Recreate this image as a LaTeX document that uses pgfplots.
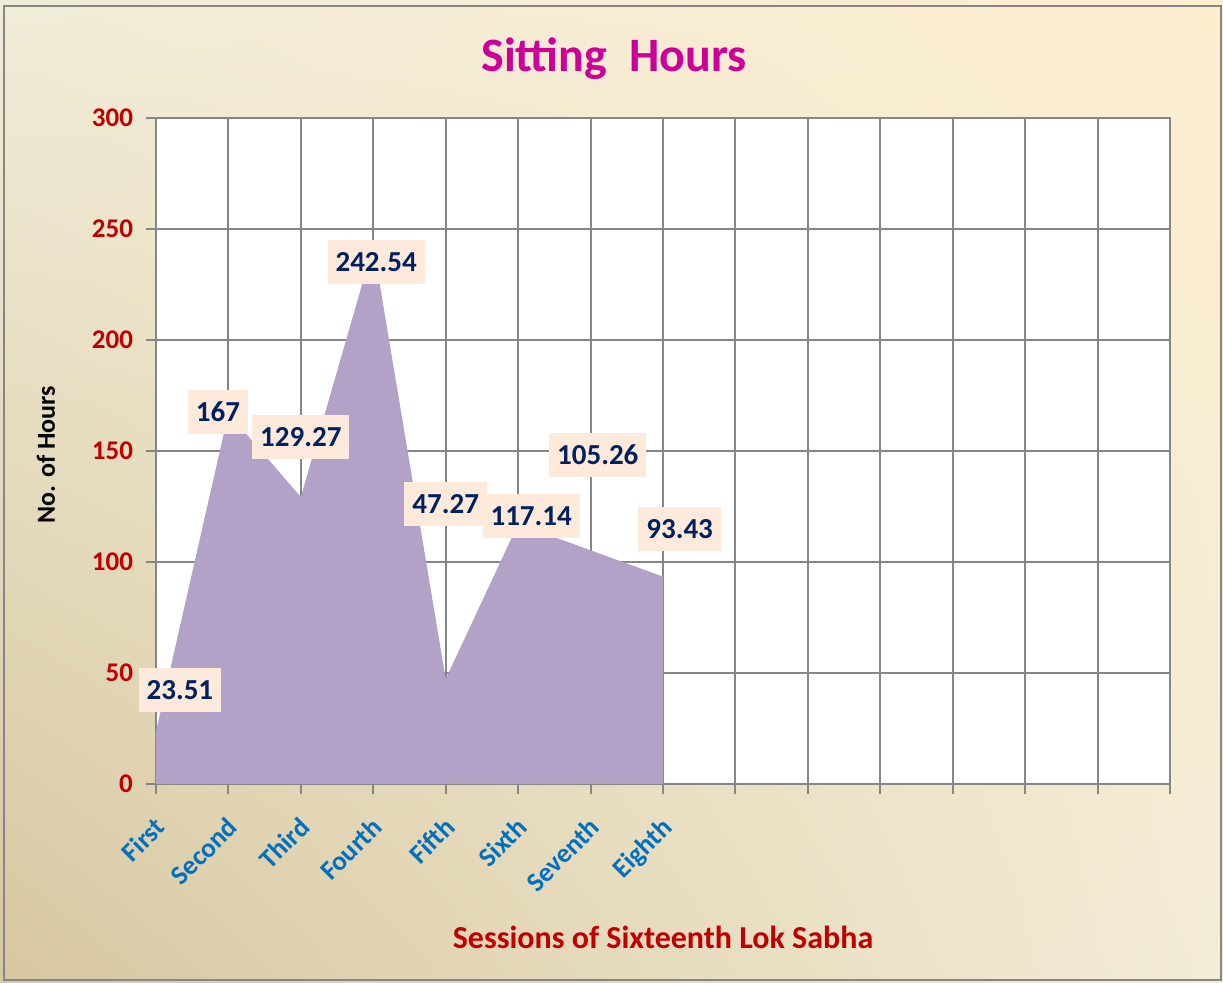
\documentclass[border=0pt]{standalone}
\usepackage{fontspec}
\setmainfont{Carlito}
\usepackage{pgfplots}
\pgfplotsset{compat=1.18}
\usetikzlibrary{shadings}
\definecolor{bgll}{RGB}{214,199,160}
\definecolor{bgul}{RGB}{241,236,216}
\definecolor{bglr}{RGB}{243,236,214}
\definecolor{bgur}{RGB}{253,238,208}
\definecolor{framegray}{RGB}{134,134,134}
\definecolor{areafill}{RGB}{179,162,199}
\definecolor{labelbox}{RGB}{253,234,218}
\definecolor{labeltext}{RGB}{0,32,96}
\definecolor{tickred}{RGB}{192,0,0}
\definecolor{tickblue}{RGB}{0,112,192}
\definecolor{titlemag}{RGB}{204,0,153}
\begin{document}
\begin{tikzpicture}
\useasboundingbox (0,0) rectangle (611.5pt,491.5pt);
\shade[lower left=bgll, upper left=bgul, lower right=bglr, upper right=bgur]
  (0,0) rectangle (611.5pt,491.5pt);
\draw[framegray, line width=1pt] (2pt,1.5pt) rectangle (610.5pt,488.5pt);
\begin{axis}[
  at={(78pt,99.5pt)}, anchor=south west,
  scale only axis,
  width=507pt, height=333pt,
  xmin=0, xmax=14, ymin=0, ymax=300,
  xtick={0,...,14},
  xticklabels={First,Second,Third,Fourth,Fifth,Sixth,Seventh,Eighth,,,,,,,},
  ytick={0,50,...,300},
  xtick pos=bottom, ytick pos=left,
  grid=major,
  major grid style={framegray, line width=1pt},
  axis line style={framegray, line width=1pt},
  every tick/.style={framegray, line width=1pt},
  tick align=outside,
  major tick length=5pt,
  axis background/.style={fill=white},
  tick label style={font=\fontsize{13.5}{15}\selectfont\bfseries},
  /pgf/number format/assume math mode=true,
  yticklabel style={tickred, xshift=-3pt},
  xticklabel style={tickblue, rotate=45, anchor=north east, xshift=-5.2pt, yshift=-3.2pt},
  clip=false,
]
\addplot[fill=areafill, draw=none] coordinates {
  (0,23.51) (1,167) (2,129.27) (3,242.54) (4,47.27) (5,117.14) (6,105.26) (7,93.43)
} \closedcycle;
\begin{scope}[every node/.style={fill=labelbox, text=labeltext,
    font=\fontsize{14.5}{16}\selectfont\bfseries, inner xsep=4pt,
    minimum height=22pt}]
\node at (axis cs:0.33,42.3) {23.51};
\node at (axis cs:0.856,167.6) {167};
\node at (axis cs:2.0,156.3) {129.27};
\node at (axis cs:3.04,235.1) {242.54};
\node at (axis cs:4.0,126.1) {47.27};
\node at (axis cs:5.18,120.7) {117.14};
\node at (axis cs:6.10,148.2) {105.26};
\node at (axis cs:7.23,114.9) {93.43};
\end{scope}
\end{axis}
\node[titlemag, font=\fontsize{24}{28}\selectfont\bfseries] at (307pt,462pt) {Sitting\ \ Hours};
\node[tickred, font=\fontsize{16}{19}\selectfont\bfseries] at (331.5pt,23pt) {Sessions of Sixteenth Lok Sabha};
\node[black, rotate=90, font=\fontsize{13}{15}\selectfont\bfseries] at (23pt,264pt) {No. of Hours};
\end{tikzpicture}
\end{document}
